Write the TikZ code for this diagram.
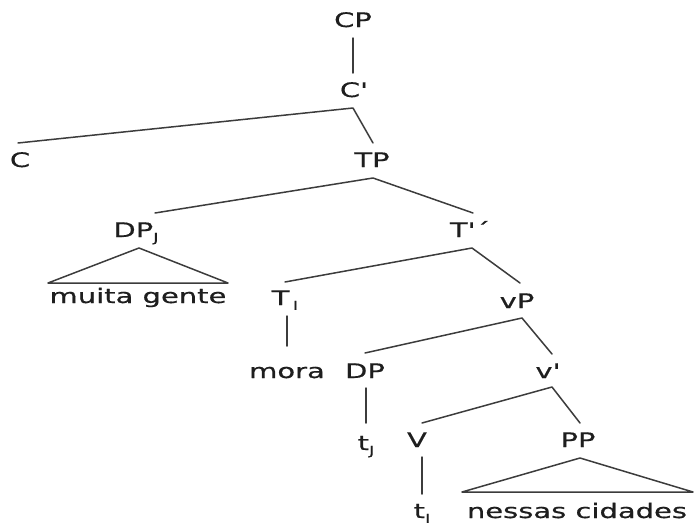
\documentclass[tikz,border=0pt]{standalone}
\usepackage{fontspec}
\newfontfamily\treefont{DejaVu Sans}[FakeStretch=1.45,FakeBold=0.6]
\newcommand{\sbj}[1]{\raisebox{-0.45ex}{\fontsize{12.5}{12.5}\selectfont #1}}
\definecolor{ink}{HTML}{1E1E1E}
\definecolor{edge}{HTML}{3C3C3C}
\tikzset{
  lab/.style={anchor=base, inner sep=0pt, text=ink, font=\treefont\fontsize{20}{24}\selectfont},
  br/.style={draw=edge, line width=1.5pt, line cap=round, line join=round},
}
\begin{document}
\begin{tikzpicture}[x=1pt,y=-1pt]
\useasboundingbox (0,0) rectangle (694,525);
% labels
\node[lab] (cp)  at (353,27)  {CP};
\node[lab] (cb)  at (354,97)  {C'};
\node[lab] (c)   at (20,167)  {C};
\node[lab] (tp)  at (372,167) {TP};
\node[lab] (dpj) at (136,237) {DP\sbj{J}};
\node[lab] (tb)  at (470,237) {T'´};
\node[lab] (mg)  at (138,303) {muita gente};
\node[lab] (ti)  at (285,305) {T\,\sbj{I}};
\node[lab] (vp)  at (517,308) {vP};
\node[lab] (mora) at (287,378) {mora};
\node[lab] (dp)  at (365,378) {DP};
\node[lab] (vb)  at (548,378) {v'};
\node[lab] (tj)  at (366,450) {t\sbj{J}};
\node[lab] (v)   at (417,447) {V};
\node[lab] (pp)  at (578,447) {PP};
\node[lab] (tI)  at (422,518) {t\sbj{I}};
\node[lab] (nc)  at (577,518) {nessas cidades};
% connector end points
\coordinate (cpB) at (353,38);  \coordinate (cbT) at (353,73);
\coordinate (cbB) at (353,108); \coordinate (cT) at (18,143);  \coordinate (tpT) at (373,143);
\coordinate (tpB) at (373,178); \coordinate (dpjT) at (155,213); \coordinate (tbT) at (473,213);
\coordinate (dpjB) at (139,248); \coordinate (mgL) at (48,283); \coordinate (mgR) at (228,283);
\coordinate (tbB) at (472,248); \coordinate (tiT) at (285,282); \coordinate (vpT) at (520,283);
\coordinate (tiB) at (287,316); \coordinate (moraT) at (287,346);
\coordinate (vpB) at (522,318); \coordinate (dpT) at (365,353); \coordinate (vbT) at (552,354);
\coordinate (dpB) at (366,388); \coordinate (tjT) at (366,423);
\coordinate (vbB) at (552,387); \coordinate (vT) at (422,423); \coordinate (ppT) at (580,423);
\coordinate (vB) at (422,457); \coordinate (tIT) at (422,494);
\coordinate (ppB) at (580,458); \coordinate (ncL) at (462,492); \coordinate (ncR) at (693,492);
% connectors
\draw[br] (cpB) -- (cbT);
\draw[br] (cT) -- (cbB) -- (tpT);
\draw[br] (dpjT) -- (tpB) -- (tbT);
\draw[br] (dpjB) -- (mgL) -- (mgR) -- cycle;
\draw[br] (tiT) -- (tbB) -- (vpT);
\draw[br] (tiB) -- (moraT);
\draw[br] (dpT) -- (vpB) -- (vbT);
\draw[br] (dpB) -- (tjT);
\draw[br] (vT) -- (vbB) -- (ppT);
\draw[br] (vB) -- (tIT);
\draw[br] (ppB) -- (ncL) -- (ncR) -- cycle;
\end{tikzpicture}
\end{document}
